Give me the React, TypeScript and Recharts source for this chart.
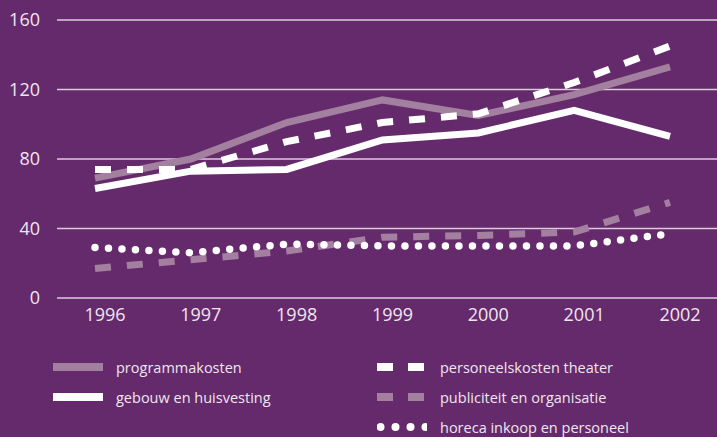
import { CartesianGrid, Line, LineChart, XAxis, YAxis } from "recharts";

const years = ["1996", "1997", "1998", "1999", "2000", "2001", "2002"];
const programmakosten = [69, 80, 101, 114, 105, 117, 133];
const gebouw = [63, 73, 74, 91, 95, 108, 93];
const personeelskosten = [74, 74, 90, 101, 106, 124, 145];
const publiciteit = [17, 22, 27, 35, 36, 38, 55];
const horeca = [29, 26, 31, 30, 30, 30, 37];
const yTicks = [0, 40, 80, 120, 160];

const BG = "#652a6b";
const MAUVE = "#a3809f";
const WHITE = "#ffffff";
const TEXT = "#efe6ef";
const FONT = "'Open Sans', sans-serif";

const data = years.map((year, i) => ({
  year,
  programmakosten: programmakosten[i],
  gebouw: gebouw[i],
  personeelskosten: personeelskosten[i],
  publiciteit: publiciteit[i],
  horeca: horeca[i],
}));

function Swatch({ kind }: { kind: string }) {
  if (kind === "solidMauve" || kind === "solidWhite") {
    return (
      <svg width={50} height={10}>
        <rect x={0} y={1} width={50} height={8} fill={kind === "solidMauve" ? MAUVE : WHITE} />
      </svg>
    );
  }
  if (kind === "dashWhite" || kind === "dashMauve") {
    const c = kind === "dashWhite" ? WHITE : MAUVE;
    return (
      <svg width={50} height={10}>
        <rect x={0} y={1} width={16} height={8} fill={c} />
        <rect x={31} y={1} width={16} height={8} fill={c} />
      </svg>
    );
  }
  return (
    <svg width={50} height={10}>
      {[4, 19, 34, 49].map((cx) => (
        <circle key={cx} cx={cx - 0.5} cy={5} r={4} fill={WHITE} />
      ))}
    </svg>
  );
}

const legendItems = [
  { label: "programmakosten", kind: "solidMauve", x: 53, y: 367 },
  { label: "gebouw en huisvesting", kind: "solidWhite", x: 53, y: 397 },
  { label: "personeelskosten theater", kind: "dashWhite", x: 377, y: 367 },
  { label: "publiciteit en organisatie", kind: "dashMauve", x: 377, y: 397 },
  { label: "horeca inkoop en personeel", kind: "dots", x: 377, y: 427 },
];

export default function App() {
  return (
    <div
      style={{
        position: "absolute",
        left: 0,
        top: 0,
        width: 717,
        height: 437,
        background: BG,
        fontFamily: FONT,
        overflow: "hidden",
      }}
    >
      <LineChart
        width={717}
        height={340}
        data={data}
        margin={{ top: 20, right: 0, bottom: 0, left: 0 }}
      >
        <CartesianGrid vertical={false} stroke="#dccbdc" strokeWidth={1.5} />
        <XAxis
          dataKey="year"
          axisLine={false}
          tickLine={false}
          padding={{ left: 38, right: 47 }}
          height={42}
          tickSize={0}
          tickMargin={10}
          tick={{ fill: TEXT, fontSize: 18, fontFamily: FONT, dx: 10 }}
        />
        <YAxis
          domain={[0, 160]}
          ticks={yTicks}
          width={57}
          axisLine={false}
          tickLine={false}
          tickSize={0}
          tickMargin={17}
          tick={{ fill: TEXT, fontSize: 18, fontFamily: FONT }}
        />
        <Line
          type="linear"
          dataKey="programmakosten"
          stroke={MAUVE}
          strokeWidth={7}
          dot={false}
          isAnimationActive={false}
        />
        <Line
          type="linear"
          dataKey="publiciteit"
          stroke={MAUVE}
          strokeWidth={7}
          strokeDasharray="16 16"
          dot={false}
          isAnimationActive={false}
        />
        <Line
          type="linear"
          dataKey="gebouw"
          stroke={WHITE}
          strokeWidth={7}
          dot={false}
          isAnimationActive={false}
        />
        <Line
          type="linear"
          dataKey="personeelskosten"
          stroke={WHITE}
          strokeWidth={7}
          strokeDasharray="16 16"
          dot={false}
          isAnimationActive={false}
        />
        <Line
          type="linear"
          dataKey="horeca"
          stroke={WHITE}
          strokeWidth={7.5}
          strokeDasharray="0 13.5"
          strokeLinecap="round"
          dot={false}
          isAnimationActive={false}
        />
      </LineChart>
      {legendItems.map((item) => (
        <div
          key={item.label}
          style={{
            position: "absolute",
            left: item.x,
            top: item.y - 10,
            height: 20,
            display: "flex",
            alignItems: "center",
            color: TEXT,
            fontSize: 14.5,
            whiteSpace: "nowrap",
          }}
        >
          <Swatch kind={item.kind} />
          <span style={{ marginLeft: 13 }}>{item.label}</span>
        </div>
      ))}
    </div>
  );
}
